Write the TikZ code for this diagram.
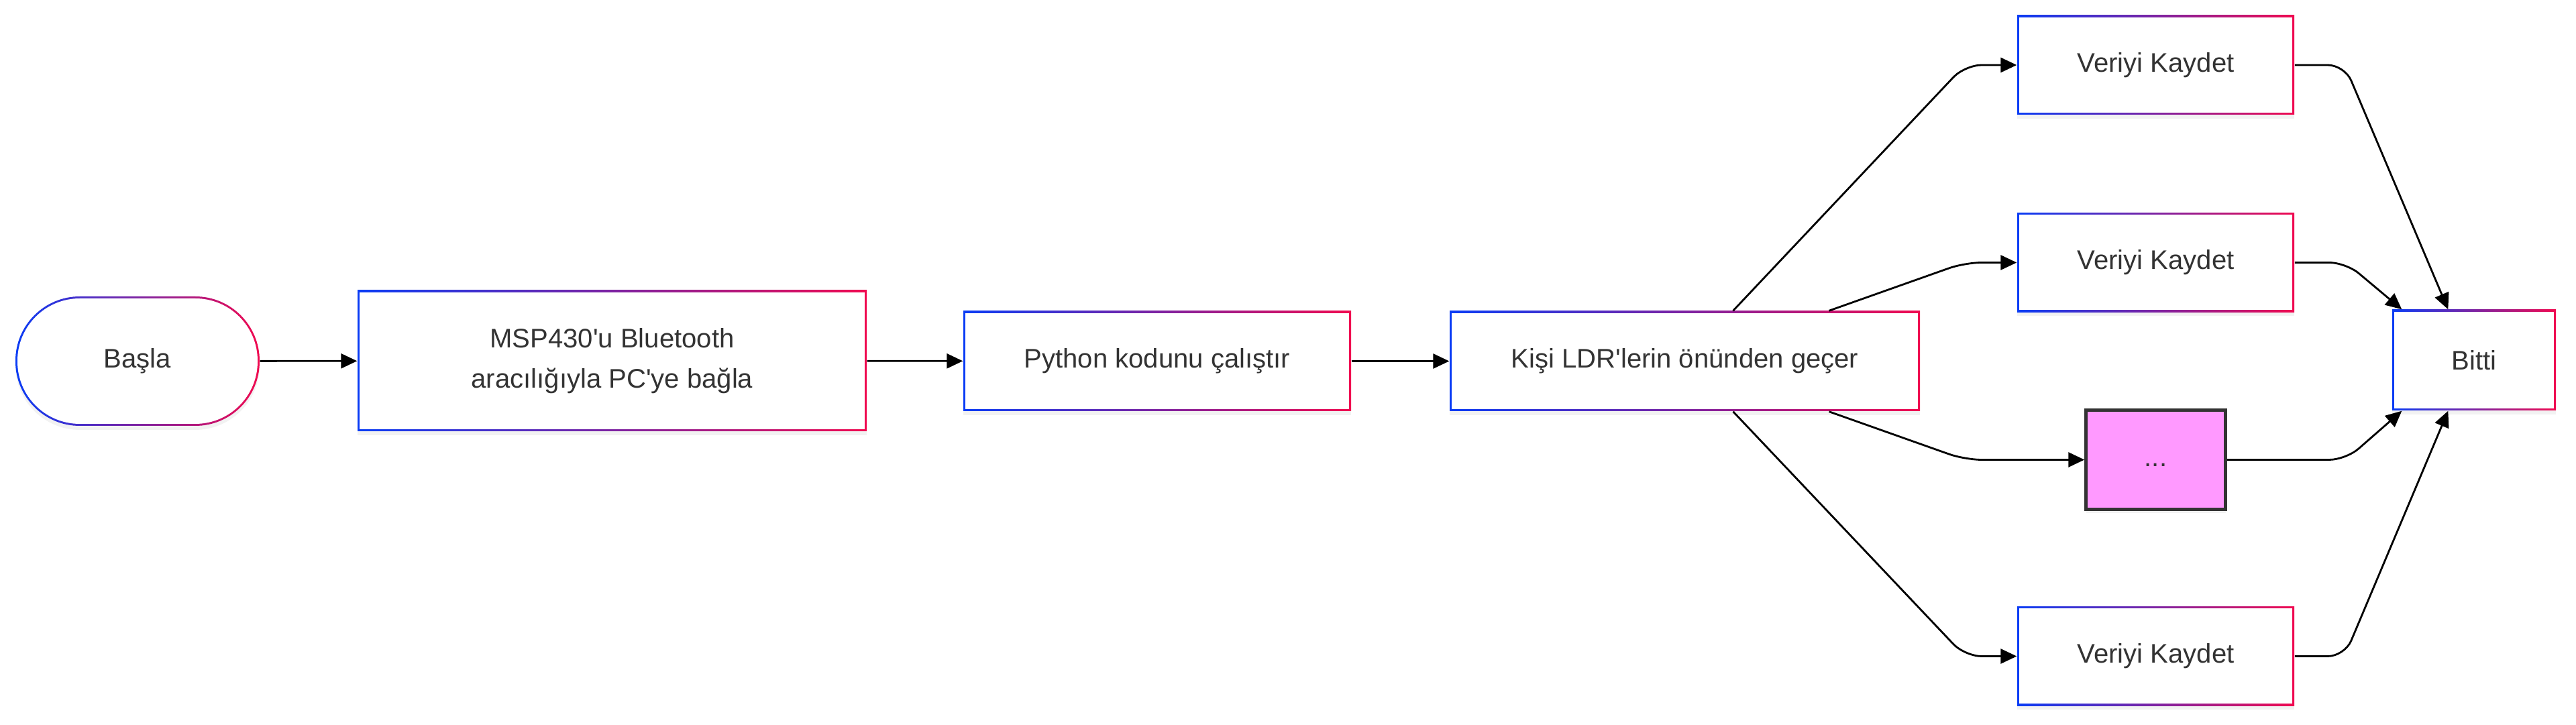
\documentclass[tikz,border=0pt]{standalone}
\usepackage{fontspec}
\newfontfamily\flowfont{Liberation Sans}
\usetikzlibrary{arrows.meta,shadows}
\definecolor{edgeblue}{RGB}{10,60,245}
\definecolor{edgered}{RGB}{240,10,80}
\definecolor{txtgray}{RGB}{51,51,51}
\definecolor{dotpink}{RGB}{255,153,255}

\tikzset{
  gradbox/.style={rectangle, inner sep=0pt, left color=edgeblue, right color=edgered,
    drop shadow={shadow xshift=0pt,shadow yshift=-0.06cm,opacity=0.1},
    path picture={\fill[white] ([shift={(0.03,0.03)}]path picture bounding box.south west)
      rectangle ([shift={(-0.03,-0.03)}]path picture bounding box.north east);},
    text=txtgray, align=center, font=\flowfont\fontsize{11.4}{17}\selectfont},
  startbox/.style={gradbox, rounded corners=0.96cm,
    path picture={\fill[white, rounded corners=0.93cm] ([shift={(0.03,0.03)}]path picture bounding box.south west)
      rectangle ([shift={(-0.03,-0.03)}]path picture bounding box.north east);}},
  flow/.style={line width=0.8pt, rounded corners=0.25cm, -{Triangle[length=0.24cm,width=0.22cm]}}
}

\begin{document}
\begin{tikzpicture}
      \useasboundingbox (0,0) rectangle (38.4,-10.81);
      \node[startbox, minimum width=3.64cm, minimum height=1.93cm] (basla) at (2.05,-5.385) {Başla};
      \node[gradbox, minimum width=7.59cm, minimum height=2.10cm] (msp) at (9.125,-5.38) {MSP430'u Bluetooth\\aracılığıyla PC'ye bağla};
      \node[gradbox, minimum width=5.78cm, minimum height=1.49cm] (python) at (17.25,-5.385) {Python kodunu çalıştır};
      \node[gradbox, minimum width=7.01cm, minimum height=1.49cm] (kisi) at (25.115,-5.385) {Kişi LDR'lerin önünden geçer};
      \node[gradbox, minimum width=4.13cm, minimum height=1.48cm] (kayit1) at (32.135,-0.97) {Veriyi Kaydet};
      \node[gradbox, minimum width=4.13cm, minimum height=1.48cm] (kayit2) at (32.135,-3.915) {Veriyi Kaydet};
      \node[draw=txtgray, line width=1.3pt, fill=dotpink, text=txtgray, font=\flowfont\fontsize{11.4}{17}\selectfont,
        drop shadow={shadow xshift=0pt,shadow yshift=-0.06cm,opacity=0.1},
        minimum width=2.08cm, minimum height=1.48cm, inner sep=0pt] (diger) at (32.135,-6.855) {\vphantom{Ay}...};
      \node[gradbox, minimum width=4.13cm, minimum height=1.48cm] (kayit3) at (32.135,-9.785) {Veriyi Kaydet};
      \node[gradbox, minimum width=2.44cm, minimum height=1.50cm] (bitti) at (36.88,-5.37) {Bitti};
      % bend points
      \coordinate (in1) at (29.29,-0.97);
      \coordinate (in2) at (29.29,-3.915);
      \coordinate (in3) at (29.29,-6.855);
      \coordinate (in4) at (29.29,-9.785);
      \coordinate (out1) at (34.95,-0.97);
      \coordinate (out2) at (34.97,-3.915);
      \coordinate (out3) at (34.97,-6.855);
      \coordinate (out4) at (34.95,-9.785);
      \draw[flow] (basla) -- (msp);
      \draw[flow] (msp) -- (python);
      \draw[flow] (python) -- (kisi);
      \draw[flow] ([xshift=0.72cm]kisi.north) -- (in1) -- (kayit1);
      \draw[flow] ([xshift=2.15cm]kisi.north) -- (in2) -- (kayit2);
      \draw[flow] ([xshift=2.15cm]kisi.south) -- (in3) -- (diger);
      \draw[flow] ([xshift=0.72cm]kisi.south) -- (in4) -- (kayit3);
      \draw[flow] (kayit1) -- (out1) -- ([xshift=0.84cm]bitti.north west);
      \draw[flow] (kayit2) -- (out2) -- ([xshift=0.15cm]bitti.north west);
      \draw[flow] (diger) -- (out3) -- ([xshift=0.15cm]bitti.south west);
      \draw[flow] (kayit3) -- (out4) -- ([xshift=0.84cm]bitti.south west);
    \end{tikzpicture}
\end{document}
